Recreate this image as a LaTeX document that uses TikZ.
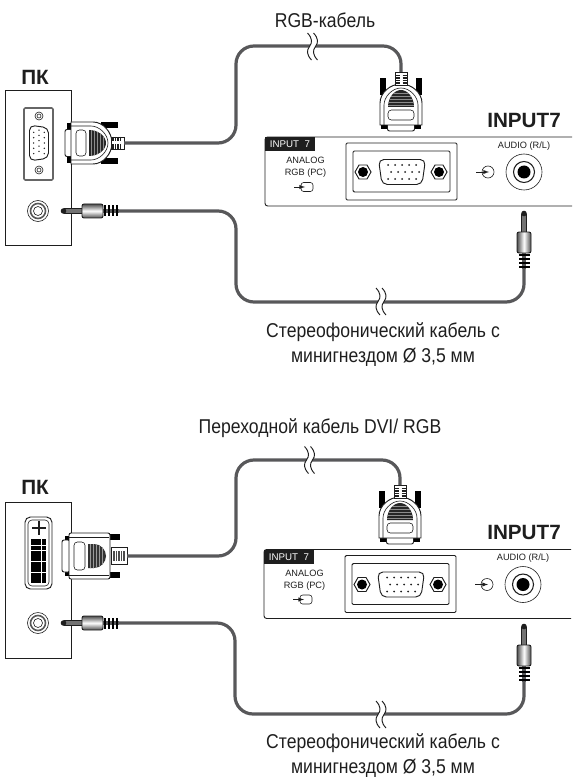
\documentclass[tikz,border=0pt]{standalone}
\usepackage{fontspec}
\setmainfont{Liberation Sans}
\newfontfamily\labelfont[FakeStretch=0.88]{Liberation Sans}
\definecolor{cablegray}{RGB}{88,88,90}
\definecolor{inkblack}{RGB}{30,30,30}
\tikzset{
  cable/.style={draw=cablegray,line width=2.4pt,rounded corners=13.5pt},
  thin line/.style={draw=inkblack,line width=0.7pt},
  fine line/.style={draw=inkblack,line width=0.45pt},
  label text/.style={inner sep=0pt,text=inkblack,align=center,font=\labelfont\fontsize{15}{18.75}\selectfont},
  head text/.style={inner sep=0pt,text=inkblack,font=\fontsize{15.5}{18}\selectfont\bfseries},
  small text/.style={inner sep=0pt,text=inkblack,align=center,font=\fontsize{6.9}{6.9}\selectfont},
  barrel/.style={top color=black!70,bottom color=black!70,middle color=white,shading angle=#1},
  % D-shaped socket with its pins
  pics/dsubport/.style={code={
    \draw[thin line,fill=white,rounded corners=4pt] (-23.5,-12.5) -- (23.5,-12.5) -- (20,12.5) -- (-20,12.5) -- cycle;
    \foreach \px in {-14,-7,0,7,14} {
      \fill[inkblack] (\px,-7) circle (1);
      \fill[inkblack] (\px,7) circle (1);
      \fill[inkblack] (\px+3,0) circle (1);
    }
  }},
  % hexagon screw on the panel
  pics/hexscrew/.style={code={
    \draw[thin line,fill=white] (-8,0) -- (-4,-7) -- (4,-7) -- (8,0) -- (4,7) -- (-4,7) -- cycle;
    \fill[black] (0,0) circle (5);
  }},
  % round socket with rings
  pics/ringsocket/.style={code={
    \draw[fine line,fill=white] (0,0) circle (10.5);
    \draw[draw=black!65,line width=1.2pt] (0,0) circle (7.5);
    \draw[fine line] (0,0) circle (4.5);
  }},
  % VGA plug, tip at the origin, cable end at (59,0)
  pics/vgaplug/.style={code={
    \fill[black] (36,-21) rectangle (53,-15);
    \fill[black] (36,15) rectangle (53,21);
    \fill[black] (2,-20) rectangle (8,-14);
    \fill[black] (2,14) rectangle (8,20);
    \draw[thin line,fill=white,rounded corners=1.5pt] (0,-13.5) rectangle (8,13.5);
    \draw[thin line,fill=white] (6,-21) -- (28,-21) .. controls (38,-21) and (47,-11) .. (47,0) .. controls (47,11) and (38,21) .. (28,21) -- (6,21) -- cycle;
    \draw[fine line] (6,-17) -- (26,-17) .. controls (34,-17) and (43,-9) .. (43,0) .. controls (43,9) and (34,17) .. (26,17) -- (6,17);
    \draw[fine line,rounded corners=2.5pt] (11,-13) rectangle (21,13);
    \fill[black!85] (24,-13) .. controls (33,-13) and (41,-7) .. (41,0) .. controls (41,7) and (33,13) .. (24,13) -- cycle;
    \begin{scope}
      \clip (24,-13) .. controls (33,-13) and (41,-7) .. (41,0) .. controls (41,7) and (33,13) .. (24,13) -- cycle;
      \foreach \ux in {26,29,32,35,38} \draw[draw=black!45,line width=0.6pt] (\ux,-14) -- (\ux,14);
    \end{scope}
    \draw[thin line,fill=white] (46,-6) rectangle (59,6);
    \foreach \ux in {48,50.5,53,55.5} \draw[draw=inkblack,line width=0.8pt] (\ux,-6) -- (\ux,-1.5) (\ux,1.5) -- (\ux,6);
    \coordinate (-end) at (59,0);
  }},
  % DVI plug, tip at the origin, cable end at (65,0)
  pics/dviplug/.style={code={
    \fill[black] (40,-22) rectangle (58,-16);
    \fill[black] (40,16) rectangle (58,22);
    \fill[black] (3,-20) rectangle (9,-15);
    \fill[black] (3,15) rectangle (9,20);
    \draw[thin line,fill=white,rounded corners=1.5pt] (0,-16) rectangle (8,16);
    \draw[thin line,fill=white,rounded corners=1.5pt] (7,-23) rectangle (48,23);
    \draw[fine line] (7,-19) -- (47,-19) (7,19) -- (47,19);
    \draw[fine line,rounded corners=2.5pt] (12,-14) rectangle (23,14);
    \fill[black!80] (26,-12) -- (32,-12) .. controls (39,-12) and (44,-6) .. (44,0) .. controls (44,6) and (39,12) .. (32,12) -- (26,12) -- cycle;
    \begin{scope}
      \clip (26,-12) -- (32,-12) .. controls (39,-12) and (44,-6) .. (44,0) .. controls (44,6) and (39,12) .. (32,12) -- (26,12) -- cycle;
      \foreach \ux in {28,31,34,37,40} \draw[draw=black!40,line width=0.6pt] (\ux,-13) -- (\ux,13);
    \end{scope}
    \draw[fine line,fill=white] (49,-8.5) rectangle (65,8.5);
    \foreach \ux in {52,54.5,57,59.5,62} \draw[draw=black!70,line width=0.8pt] (\ux,-5) -- (\ux,5);
    \coordinate (-end) at (65,0);
  }},
  % mini jack, tip at the origin, cable end at (57,0)
  pics/jackplug/.style={code={
    \draw[thin line,fill=black!55] (2,-2.7) rectangle (21,2.7);
    \fill[inkblack] (1.5,0) circle (2.8);
    \fill[cablegray] (40,-2) rectangle (57,2);
    \path[barrel=#1,draw=inkblack,line width=0.7pt,rounded corners=1.5pt] (20,-7) rectangle (41,7);
    \foreach \ux in {43,47,51,55} \fill[black] (\ux-1.2,-5.5) rectangle (\ux+1.2,5.5);
    \coordinate (-end) at (57,0);
  }},
  % break mark across a cable
  pics/breakmark/.style={code={
    \fill[white] (-3,-9) .. controls (1,-5) and (1,-3) .. (-1,0) .. controls (-3,3) and (-3,5) .. (1,9) -- (7,9) .. controls (3,5) and (3,3) .. (5,0) .. controls (7,-3) and (7,-5) .. (3,-9) -- cycle;
    \draw[thin line] (-3,-13.5) .. controls (2,-8) and (2,-4) .. (-1,0) .. controls (-4,4) and (-4,8) .. (1,13.5);
    \draw[thin line] (3,-13.5) .. controls (8,-8) and (8,-4) .. (5,0) .. controls (2,4) and (2,8) .. (7,13.5);
  }},
  % monitor terminal panel, upper left corner at the origin
  pics/inputpanel/.style={code={
    \draw[thin line,rounded corners=2pt] (307,0) -- (0,0) -- (0,69) -- (307,69);
    \fill[inkblack] (0,0) rectangle (50,14);
    \node[small text,text=white,font=\fontsize{7.3}{7.3}\selectfont] (-tab) at (25,7.5) {INPUT\ \ 7};
    \node[small text] (-analog) at (40.5,30.5) {ANALOG\\[2pt]RGB (PC)};
    \draw[fine line,rounded corners=2pt,fill=white] (36,45.5) rectangle (48,54.5);
    \draw[fine line,-latex] (29,50) -- (40,50);
    \draw[thin line,rounded corners=1pt] (81,6) rectangle (192,63);
    \draw[thin line,rounded corners=1pt] (88,14) rectangle (185,55);
    \pic (-sub) at (137,35) {dsubport};
    \pic (-scl) at (98,35) {hexscrew};
    \pic (-scr) at (174,35) {hexscrew};
    \draw[fine line] (223,35) circle (6);
    \draw[fine line,-latex] (211,35) -- (224,35);
    \node[small text] (-audio) at (259,9) {AUDIO (R/L)};
    \draw[fine line] (259,35) circle (18);
    \draw[draw=inkblack,line width=0.8pt] (259,35) circle (10.5);
    \fill[black] (259,35) circle (6.5);
  }}
}
\begin{document}
\begin{tikzpicture}[x=0.75pt,y=0.75pt,yscale=-1,xscale=1,every pic/.style={yscale=-1}]
\useasboundingbox (0,0) rectangle (573,777);

% Upper PC
\node[head text] (pcA) at (35,77) {ПК};
\draw[thin line] (5,90) rectangle (71,245);
\draw[draw=black!60,line width=1.2pt,rounded corners=1pt] (24,108) rectangle (53,180);
\draw[fine line,fill=white] (39,116) circle (4);
\draw[fine line] (39,116) circle (2);
\draw[fine line,fill=white] (39,170) circle (4);
\draw[fine line] (39,170) circle (2);
\pic[rotate=90,scale=0.76] (portA) at (39,143) {dsubport};
\pic (sockA) at (38,211) {ringsocket};

% Upper monitor
\pic (panelA) at (265,137) {inputpanel};
\node[head text] (inputA) at (524,120) {INPUT7};

% Upper cables
\coordinate (rgbcornerA) at (236,46);
\coordinate (audiocornerA) at (236,302);
\pic (plugA) at (65,143) {vgaplug};
\pic[rotate=90] (plugB) at (401,131) {vgaplug};
\pic (jackA) at (62,211) {jackplug=0};
\pic[rotate=-90] (jackB) at (524,212) {jackplug=90};
\draw[cable] (plugA-end) -| (rgbcornerA) -| (plugB-end);
\draw[cable] (jackA-end) -| (audiocornerA) -| (jackB-end);
\pic (breakA) at (310.5,46.5) {breakmark};
\pic (breakB) at (379,301.5) {breakmark};
\node[label text] (rgbA) at (325,20) {RGB-кабель};
\node[label text] (audioA) at (383,344.5) {Стереофонический кабель с\\минигнездом Ø 3,5 мм};

% Lower PC
\node[head text] (pcB) at (35,487) {ПК};
\draw[thin line] (5,502) rectangle (71,658);
\draw[draw=inkblack,line width=0.7pt,rounded corners=4pt] (25,517) rectangle (52,589);
\draw[fine line,rounded corners=3pt] (28,520) rectangle (49,586);
\draw[draw=inkblack,line width=1.2pt] (39,521) -- (39,535) (32,528) -- (46,528);
\fill[black] (31,539) rectangle (46,583);
\foreach \ry in {545,550,561,572} \draw[draw=white,line width=0.6pt] (31,\ry) -- (46,\ry);
\draw[draw=white,line width=0.6pt] (41,539) -- (41,583);
\pic (sockB) at (38,623) {ringsocket};

% Lower monitor
\pic (panelB) at (264,549.5) {inputpanel};
\node[head text] (inputB) at (524,532) {INPUT7};

% Lower cables
\coordinate (rgbcornerB) at (236,460);
\coordinate (audiocornerB) at (235,714);
\pic (plugC) at (62,556) {dviplug};
\pic[rotate=90] (plugD) at (400,544) {vgaplug};
\pic (jackC) at (62,623) {jackplug=0};
\pic[rotate=-90] (jackD) at (524,625) {jackplug=90};
\draw[cable] (plugC-end) -| (rgbcornerB) -| (plugD-end);
\draw[cable] (jackC-end) -| (audiocornerB) -| (jackD-end);
\pic (breakC) at (307.5,460) {breakmark};
\pic (breakD) at (379,714.5) {breakmark};
\node[label text] (rgbB) at (320,428) {Переходной кабель DVI/ RGB};
\node[label text] (audioB) at (383,755.5) {Стереофонический кабель с\\минигнездом Ø 3,5 мм};

\end{tikzpicture}
\end{document}
